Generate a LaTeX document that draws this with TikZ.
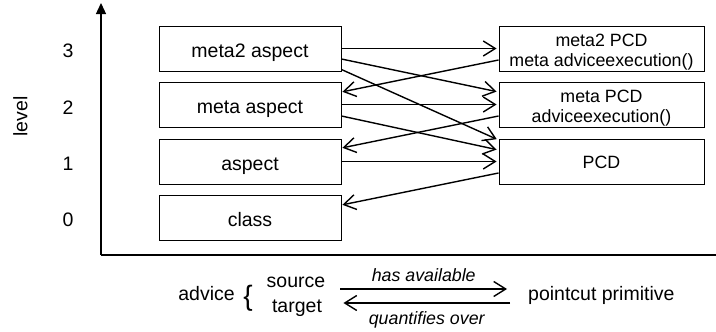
\documentclass[tikz,border=0pt]{standalone}
\usepackage{fontspec}
\setmainfont{Liberation Sans}
\usetikzlibrary{arrows.meta,calc}
\begin{document}
\begin{tikzpicture}[x=1pt,y=-1pt,
    box/.style={draw,line width=0.9pt,minimum width=182pt,minimum height=45pt,inner sep=0pt,
        text height=17.5pt,text depth=0.5pt,font=\fontsize{19.5}{23}\selectfont},
    pcd/.style={draw,line width=0.9pt,minimum width=205pt,minimum height=45pt,inner sep=0pt,align=center,
        text height=35pt,text depth=0pt,font=\fontsize{17.8}{20}\selectfont},
    txt/.style={inner sep=0pt,font=\fontsize{19.5}{23}\selectfont},
    lbl/.style={inner sep=0pt,font=\fontsize{17.8}{21}\selectfont\itshape},
    link/.style={->,line width=1.4pt},
    >={Straight Barb[length=12pt,width=15pt]}]
    \useasboundingbox (0,0) rectangle (716,332);
    % axes
    \coordinate (o) at (101,255); \coordinate (ytop) at (101,3); \coordinate (xend) at (716,255);
    \draw[line width=1.3pt,-{Triangle[length=11pt,width=10pt]}] (o) -- (ytop);
    \draw[line width=1.3pt] (o) -- (xend);
    \node[txt,rotate=90] (lvl) at (20.3,116.3) {level};
    \foreach \l/\y in {3/50.4,2/107.4,1/163.3,0/220}
        \node[txt] (n\l) at (68,\y) {\l};
    % advice side
    \node[box] (a3) at (250,48.5) {meta2 aspect};
    \node[box] (a2) at (250,104.5) {meta aspect};
    \node[box] (a1) at (250,161.5) {aspect};
    \node[box] (a0) at (250,217.5) {class};
    % pointcut side
    \node[pcd] (p3) at (601.5,48.5) {meta2 PCD\\meta adviceexecution()};
    \node[pcd] (p2) at (601.5,104.5) {meta PCD\\adviceexecution()};
    \node[pcd,text height=15pt,text depth=1.4pt] (p1) at (601.5,161.5) {PCD};
    % has available
    \draw[link,shorten >=2pt] (a3.east) -- (p3.west);
    \draw[link,shorten >=2pt] ([yshift=-10.5pt]a3.east) -- ([yshift=12.5pt]p2.west);
    \draw[link,shorten >=2pt] ([yshift=-21pt]a3.east) -- ([yshift=21.5pt]p1.west);
    \draw[link,shorten >=2pt] (a2.east) -- (p2.west);
    \draw[link,shorten >=2pt] ([yshift=-11.5pt]a2.east) -- ([yshift=11.5pt]p1.west);
    \draw[link,shorten >=2pt] (a1.east) -- (p1.west);
    % quantifies over
    \draw[link,shorten >=1pt] ([yshift=-11.5pt]p3.west) -- ([yshift=12.5pt]a2.east);
    \draw[link,shorten >=1pt] ([yshift=-11.5pt]p2.west) -- ([yshift=13.5pt]a1.east);
    \draw[link,shorten >=1pt] ([yshift=-11.5pt]p1.west) -- ([yshift=12.5pt]a0.east);
    % legend
    \node[txt,anchor=base] (adv) at (206.5,300) {advice};
    \node[inner sep=0pt,anchor=base,font=\fontsize{28}{28}\selectfont] (brc) at (248,305) {\{};
    \node[txt,anchor=base] (src) at (296,287) {source};
    \node[txt,anchor=base] (tgt) at (297,312) {target};
    \node[txt,anchor=base west] (pp) at (528,300) {pointcut primitive};
    \draw[link] ($(src.base east)+(15,2)$) -- ($(src.base east -| pp.west)+(-21,2)$)
        node[lbl,midway,above=7pt] (ha) {has available};
    \draw[link] ($(src.base east -| pp.west)+(-18,16)$) -- ($(src.base east)+(18,16)$)
        node[lbl,midway,below=8pt] (qo) {quantifies over};
\end{tikzpicture}
\end{document}
